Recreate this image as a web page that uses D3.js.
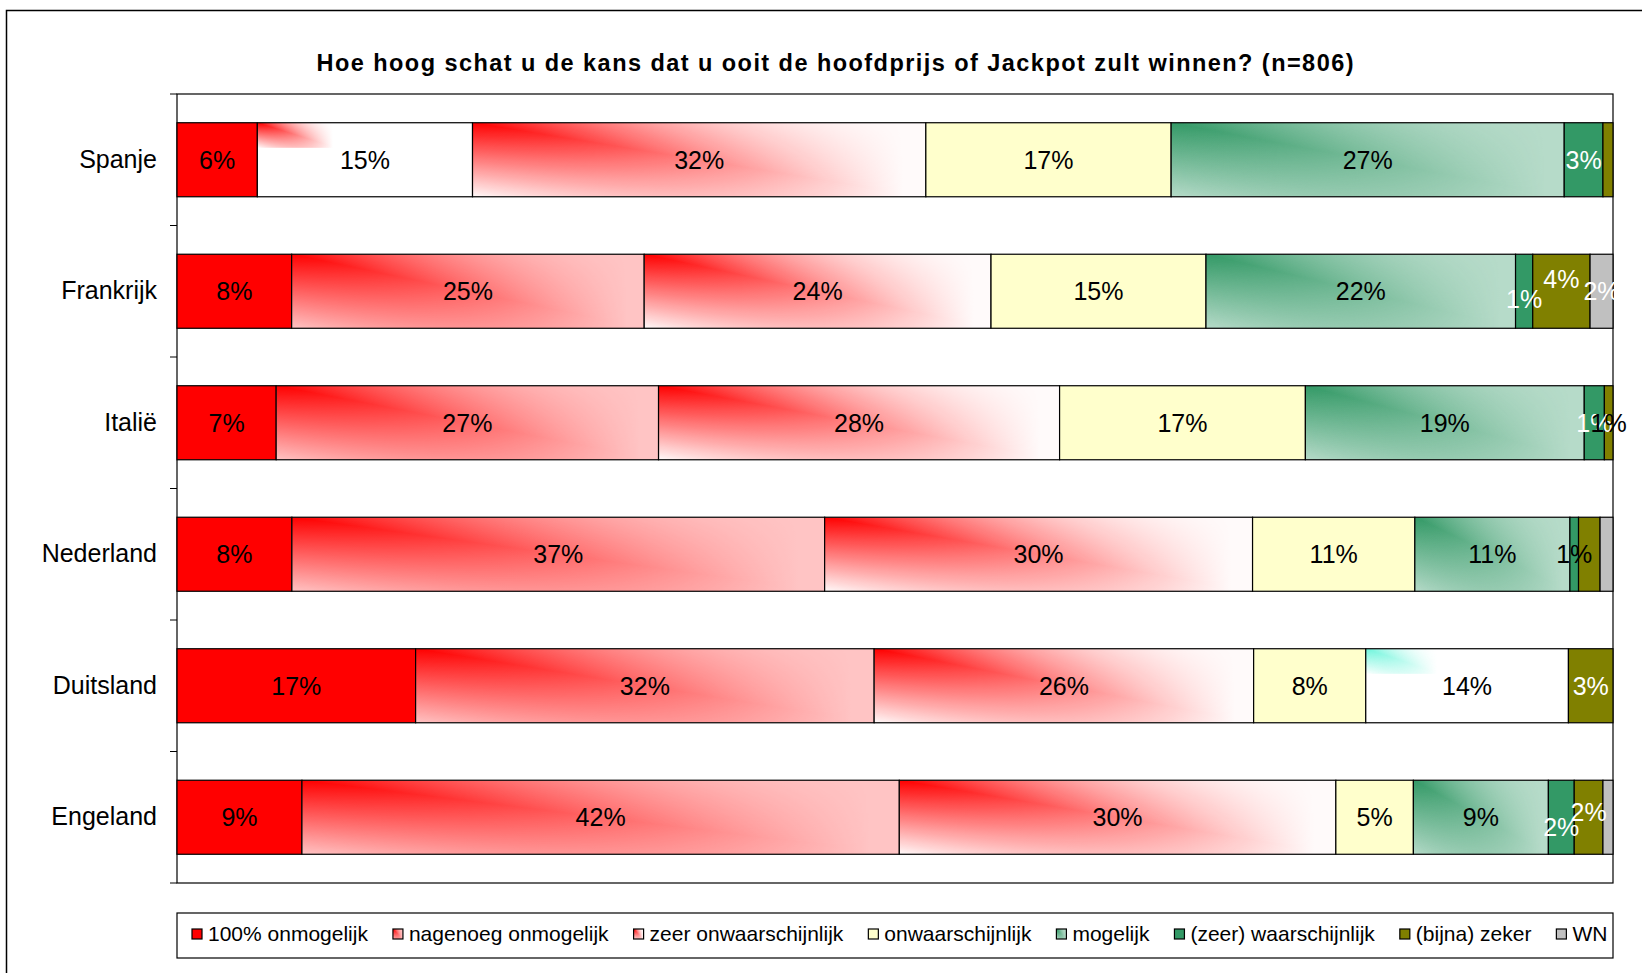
<!DOCTYPE html>
<html>
<head>
<meta charset="utf-8">
<script src="https://cdn.jsdelivr.net/npm/d3@7"></script>
<style>
  body { margin: 0; background: #fff; }
  svg { display: block; font-family: "Liberation Sans", Arial, sans-serif; }
</style>
</head>
<body>
<div id="chart"></div>
<script>
// Data (percent of respondents per country)
var countries = ["Spanje", "Frankrijk", "Italië", "Nederland", "Duitsland", "Engeland"];
var categories = ["100% onmogelijk", "nagenoeg onmogelijk", "zeer onwaarschijnlijk", "onwaarschijnlijk",
                  "mogelijk", "(zeer) waarschijnlijk", "(bijna) zeker", "WN"];

var onmogelijk100 = [5.6, 8.0, 6.9, 8.0, 16.6, 8.7];
var nagenoeg      = [15.0, 24.6, 26.6, 37.1, 31.9, 41.6];
var zeerOnw       = [31.6, 24.2, 27.9, 29.8, 26.4, 30.4];
var onw           = [17.1, 15.0, 17.1, 11.3, 7.8, 5.4];
var mogelijk      = [27.4, 21.6, 19.4, 10.8, 14.1, 9.4];
var waarsch       = [2.7, 1.2, 1.4, 0.6, 0, 1.8];
var zeker         = [0.7, 4.0, 0.6, 1.5, 3.1, 2.0];
var wn            = [0, 1.6, 0, 0.9, 0, 0.7];

var series = [onmogelijk100, nagenoeg, zeerOnw, onw, mogelijk, waarsch, zeker, wn];

var title = "Hoe hoog schat u de kans dat u ooit de hoofdprijs of Jackpot zult winnen? (n=806)";

// labels that the original does not show
var hiddenLabels = [["Spanje", "(bijna) zeker"], ["Nederland", "(bijna) zeker"],
                    ["Nederland", "WN"], ["Engeland", "WN"]];

// ---- styling ----
var fills = {
  "100% onmogelijk":       {base: "#ff0000"},
  "nagenoeg onmogelijk":   {base: "#ffc4c4", tint: "#ff0000"},
  "zeer onwaarschijnlijk": {base: "#fffafa", tint: "#ff0000"},
  "onwaarschijnlijk":      {base: "#ffffcc"},
  "mogelijk":              {base: "#b6dbc9", tint: "#339966"},
  "(zeer) waarschijnlijk": {base: "#339966"},
  "(bijna) zeker":         {base: "#808000"},
  "WN":                    {base: "#c0c0c0"}
};
var whiteText = ["(zeer) waarschijnlijk", "(bijna) zeker", "WN"];
var blackTextOverride = [["Nederland", "(zeer) waarschijnlijk"], ["Italië", "(bijna) zeker"]];
// cells where the gradient was drawn only in the top-left corner
var cornerGlitch = [["Spanje", "nagenoeg onmogelijk", "#ff0000"], ["Duitsland", "mogelijk", "#70f5dc"]];
// labels nudged up/down in the original to avoid overlap
var labelNudge = [["Frankrijk", "(zeer) waarschijnlijk", 8], ["Frankrijk", "(bijna) zeker", -12],
                  ["Engeland", "(zeer) waarschijnlijk", 10], ["Engeland", "(bijna) zeker", -5]];

function find(list, c, k) {
  return list.find(function(e) { return e[0] === c && e[1] === k; });
}

var W = 1642, H = 973;
var plot = {left: 177, top: 94, right: 1613, bottom: 883};

var svg = d3.select("#chart").append("svg")
    .attr("width", W)
    .attr("height", H);

var defs = svg.append("defs");

// ridge gradient: strongest along the diagonal from the top-left corner
var tints = ["#ff0000", "#339966", "#70f5dc"];
tints.forEach(function(t, i) {
  var g = defs.append("linearGradient").attr("id", "ridge" + i)
      .attr("x1", 0).attr("y1", 1).attr("x2", 1).attr("y2", 0);
  g.append("stop").attr("offset", 0).attr("stop-color", t).attr("stop-opacity", 0);
  g.append("stop").attr("offset", 0.5).attr("stop-color", t).attr("stop-opacity", 1);
  g.append("stop").attr("offset", 1).attr("stop-color", t).attr("stop-opacity", 0);
});
var hf = defs.append("linearGradient").attr("id", "hfade")
    .attr("x1", 0).attr("y1", 0).attr("x2", 1).attr("y2", 0);
hf.append("stop").attr("offset", 0).attr("stop-color", "#fff");
hf.append("stop").attr("offset", 0.95).attr("stop-color", "#000");
defs.append("mask").attr("id", "fade")
    .attr("maskContentUnits", "objectBoundingBox")
    .append("rect").attr("width", 1).attr("height", 1).attr("fill", "url(#hfade)");

defs.append("clipPath").attr("id", "legclip")
    .append("rect").attr("x", 177).attr("y", 913).attr("width", 1436).attr("height", 45);

// outer frame
svg.append("rect")
    .attr("x", 6.5).attr("y", 10.5)
    .attr("width", W + 20).attr("height", H + 20)
    .attr("fill", "none").attr("stroke", "#000").attr("stroke-width", 1.5);

// title
svg.append("text")
    .attr("x", 835).attr("y", 71)
    .attr("text-anchor", "middle")
    .attr("textLength", 1037)
    .attr("lengthAdjust", "spacing")
    .style("font-size", "23.5px")
    .style("font-weight", "bold")
    .text(title);

var x = d3.scaleLinear().domain([0, 1]).range([plot.left, plot.right]);
var y = d3.scaleBand().domain(countries).range([plot.top, plot.bottom])
    .paddingInner(0.437).paddingOuter(0.2185);

// plot frame
svg.append("rect")
    .attr("x", plot.left).attr("y", plot.top)
    .attr("width", plot.right - plot.left).attr("height", plot.bottom - plot.top)
    .attr("fill", "#fff").attr("stroke", "#000").attr("stroke-width", 1.2);

// ticks at band boundaries
var step = y.step();
svg.append("g").selectAll("line")
    .data(d3.range(countries.length + 1))
    .enter().append("line")
    .attr("x1", plot.left - 7).attr("x2", plot.left)
    .attr("y1", function(i) { return plot.top + i * step; })
    .attr("y2", function(i) { return plot.top + i * step; })
    .attr("stroke", "#000").attr("stroke-width", 1);

// category labels
var yAxis = svg.append("g")
    .attr("transform", "translate(" + plot.left + ",0)")
    .call(d3.axisLeft(y).tickSize(0).tickPadding(20));
yAxis.select(".domain").remove();
yAxis.selectAll("text")
    .style("font-size", "25px")
    .style("font-family", "'Liberation Sans', Arial, sans-serif")
    .attr("fill", "#000");

// stacked data
var rows = countries.map(function(c, i) {
  var r = {country: c};
  categories.forEach(function(k, j) { r[k] = series[j][i]; });
  return r;
});
var stacked = d3.stack().keys(categories).offset(d3.stackOffsetExpand)(rows);

function tintUrl(t) { return "url(#ridge" + tints.indexOf(t) + ")"; }

var bars = svg.append("g");
var labels = svg.append("g");

stacked.forEach(function(layer) {
  var key = layer.key;
  var f = fills[key];
  layer.forEach(function(d) {
    var c = d.data.country;
    var v = d.data[key];
    if (!v) return;
    var x0 = x(d[0]), x1 = x(d[1]), y0 = y(c), bh = y.bandwidth();
    var glitch = find(cornerGlitch, c, key);
    var g = bars.append("g");
    g.append("rect")
        .attr("x", x0).attr("y", y0).attr("width", x1 - x0).attr("height", bh)
        .attr("fill", glitch ? "#fff" : f.base);
    if (glitch) {
      g.append("rect")
          .attr("x", x0).attr("y", y0).attr("width", (x1 - x0) * 0.37).attr("height", bh * 0.34)
          .attr("fill", tintUrl(glitch[2])).attr("mask", "url(#fade)");
    } else if (f.tint) {
      g.append("rect")
          .attr("x", x0).attr("y", y0).attr("width", x1 - x0).attr("height", bh)
          .attr("fill", tintUrl(f.tint)).attr("mask", "url(#fade)");
    }
    g.append("rect")
        .attr("x", x0).attr("y", y0).attr("width", x1 - x0).attr("height", bh)
        .attr("fill", "none").attr("stroke", "#000").attr("stroke-width", 1.2);

    if (find(hiddenLabels, c, key)) return;
    var white = whiteText.indexOf(key) >= 0 && !find(blackTextOverride, c, key);
    var nudge = find(labelNudge, c, key);
    labels.append("text")
        .attr("x", (x0 + x1) / 2)
        .attr("y", y0 + bh / 2 + (nudge ? nudge[2] : 0))
        .attr("dy", "0.36em")
        .attr("text-anchor", "middle")
        .attr("fill", white ? "#fff" : "#000")
        .style("font-size", "25px")
        .text(Math.round(v) + "%");
  });
});

// legend
var legend = svg.append("g");
legend.append("rect")
    .attr("x", 177).attr("y", 913).attr("width", 1436).attr("height", 45)
    .attr("fill", "#fff").attr("stroke", "#000").attr("stroke-width", 1.2);
var items = legend.append("g").attr("clip-path", "url(#legclip)");
var lx = 192;
categories.forEach(function(k) {
  var f = fills[k];
  var it = items.append("g");
  it.append("rect")
      .attr("x", lx).attr("y", 929).attr("width", 10).attr("height", 10)
      .attr("fill", f.base);
  if (f.tint) {
    it.append("rect")
        .attr("x", lx).attr("y", 929).attr("width", 10).attr("height", 10)
        .attr("fill", tintUrl(f.tint)).attr("mask", "url(#fade)");
  }
  it.append("rect")
      .attr("x", lx).attr("y", 929).attr("width", 10).attr("height", 10)
      .attr("fill", "none").attr("stroke", "#000").attr("stroke-width", 1.2);
  var t = it.append("text")
      .attr("x", lx + 16).attr("y", 941)
      .style("font-size", "21px")
      .text(k);
  lx += 16 + t.node().getComputedTextLength() + 25;
});
</script>
</body>
</html>
